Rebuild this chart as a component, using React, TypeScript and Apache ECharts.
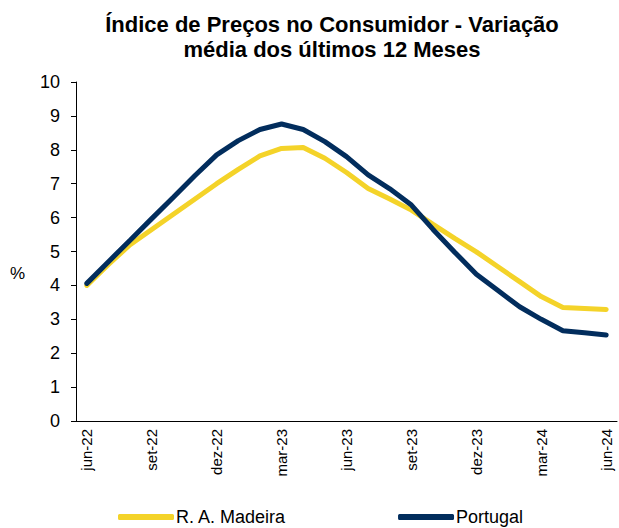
import React, { useEffect, useRef } from "react";
import * as echarts from "echarts";

const categories = [
  "jun-22", "jul-22", "ago-22", "set-22", "out-22", "nov-22", "dez-22",
  "jan-23", "fev-23", "mar-23", "abr-23", "mai-23", "jun-23", "jul-23",
  "ago-23", "set-23", "out-23", "nov-23", "dez-23", "jan-24", "fev-24",
  "mar-24", "abr-24", "mai-24", "jun-24",
];

const madeira = [
  4.0, 4.62, 5.2, 5.65, 6.1, 6.55, 7.0, 7.42, 7.82, 8.04, 8.07, 7.75, 7.33,
  6.86, 6.55, 6.22, 5.8, 5.39, 4.99, 4.55, 4.11, 3.67, 3.35, 3.32, 3.29,
];

const portugal = [
  4.06, 4.7, 5.33, 5.97, 6.6, 7.24, 7.85, 8.27, 8.6, 8.76, 8.6, 8.24, 7.8,
  7.26, 6.85, 6.37, 5.65, 4.98, 4.33, 3.85, 3.37, 3.0, 2.66, 2.6, 2.54,
];

const FONT = "'Liberation Sans', Arial, sans-serif";

export default function App() {
  const ref = useRef<HTMLDivElement>(null);

  useEffect(() => {
    if (!ref.current) return;
    const chart = echarts.init(ref.current, undefined, { renderer: "svg" });
    chart.setOption({
      animation: false,
      backgroundColor: "#ffffff",
      title: {
        text: "Índice de Preços no Consumidor - Variação\nmédia dos últimos 12 Meses",
        left: 327,
        top: 7,
        textAlign: "center",
        textStyle: {
          fontFamily: FONT,
          fontSize: 22,
          fontWeight: "bold",
          color: "#000",
          lineHeight: 25,
        },
      },
      graphic: [
        {
          type: "text",
          left: 10,
          top: 265,
          style: { text: "%", fontFamily: FONT, fontSize: 17, fill: "#000" },
        },
      ],
      legend: {
        left: 113,
        top: 503,
        itemWidth: 56,
        itemHeight: 6,
        itemGap: 112,
        icon: "roundRect",
        textStyle: { fontFamily: FONT, fontSize: 18, color: "#000", padding: [0, 0, 0, -3] },
        data: ["R. A. Madeira", "Portugal"],
      },
      grid: { left: 76, right: 2, top: 82, bottom: 107 },
      xAxis: {
        type: "category",
        data: categories,
        boundaryGap: true,
        axisLine: { lineStyle: { color: "#000", width: 1 } },
        axisTick: { interval: 2, length: 5, lineStyle: { color: "#000" } },
        axisLabel: {
          interval: 2,
          rotate: 90,
          fontFamily: FONT,
          fontSize: 15,
          color: "#000",
          margin: 8,
        },
      },
      yAxis: {
        type: "value",
        min: 0,
        max: 10,
        interval: 1,
        splitLine: { show: false },
        axisLine: { show: true, lineStyle: { color: "#000", width: 1 } },
        axisTick: { show: true, length: 5, lineStyle: { color: "#000" } },
        axisLabel: { fontFamily: FONT, fontSize: 18, color: "#000", margin: 16 },
      },
      series: [
        {
          name: "R. A. Madeira",
          type: "line",
          data: madeira,
          symbol: "none",
          color: "#F4D329",
          lineStyle: { width: 5, color: "#F4D329", cap: "round" },
          z: 2,
        },
        {
          name: "Portugal",
          type: "line",
          data: portugal,
          symbol: "none",
          color: "#022D5D",
          lineStyle: { width: 5, color: "#022D5D", cap: "round" },
          z: 3,
        },
      ],
    });
    return () => chart.dispose();
  }, []);

  return (
    <div
      ref={ref}
      style={{ position: "fixed", left: 0, top: 0, width: 619, height: 528 }}
    />
  );
}
